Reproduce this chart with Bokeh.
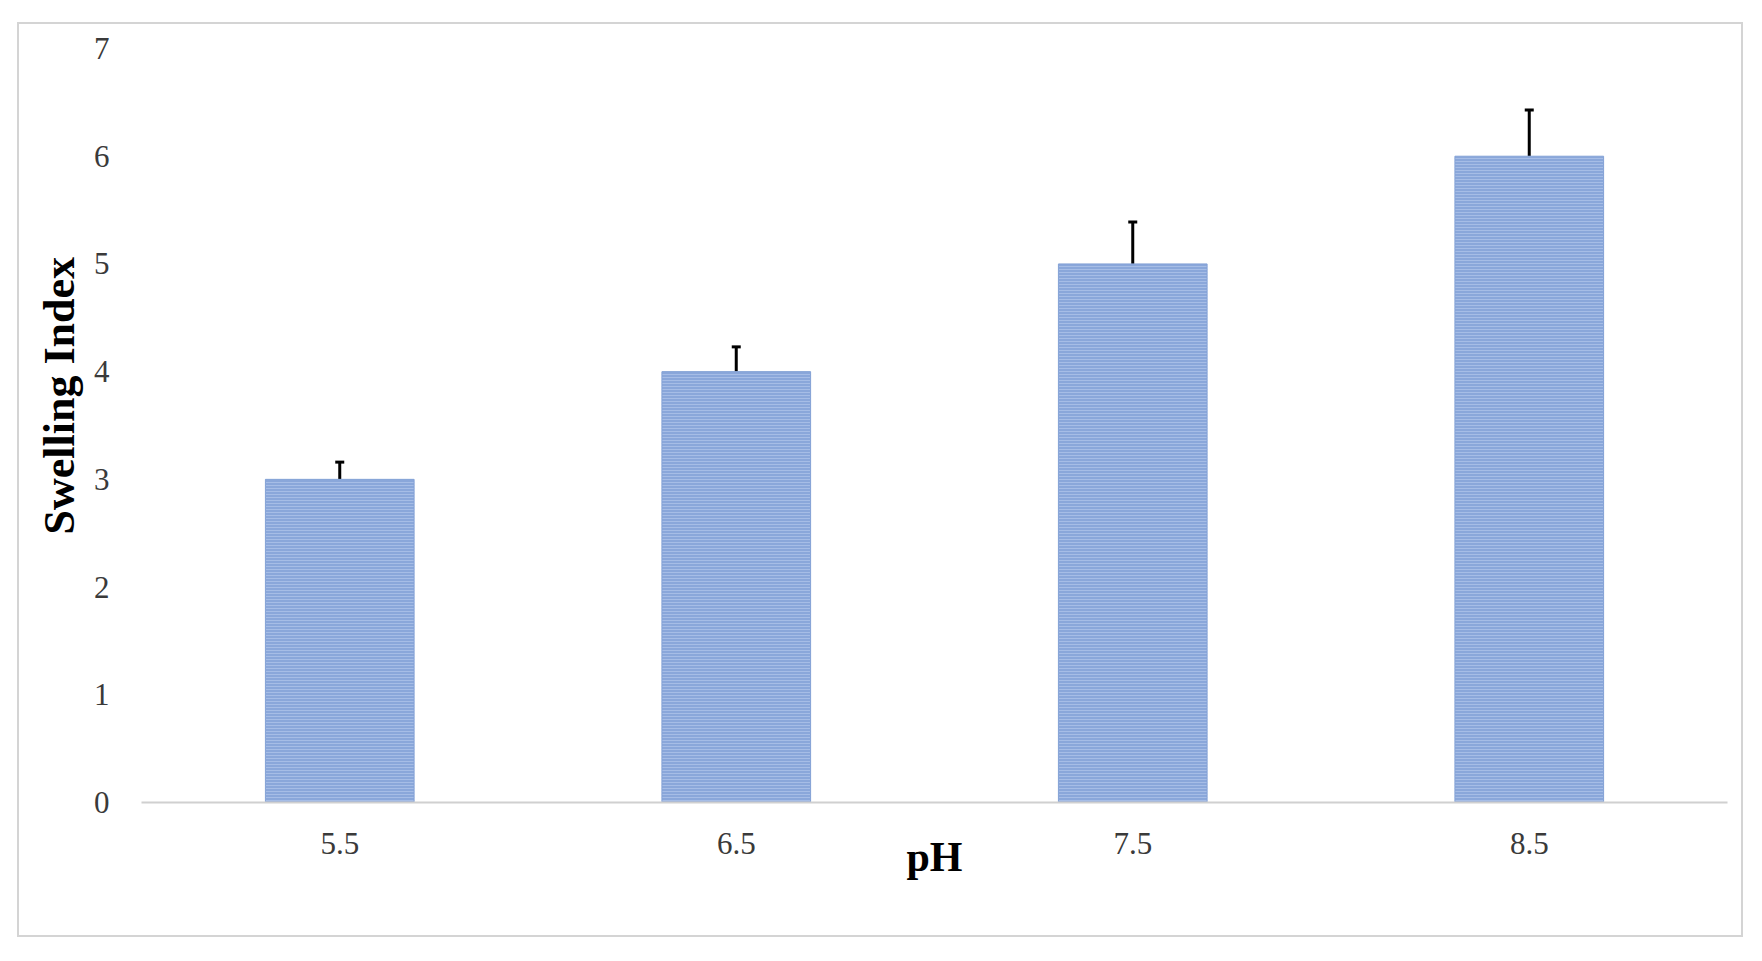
from bokeh.plotting import figure
from bokeh.layouts import column, row
from bokeh.models import (ColumnDataSource, FixedTicker, Whisker, TeeHead, FactorRange,
                          Spacer, Title)
from bokeh.embed import file_html
from bokeh.resources import INLINE

# ---- data ----
ph_levels = ["5.5", "6.5", "7.5", "8.5"]
swelling_index = [3.0, 4.0, 5.0, 6.0]
swelling_err = [0.16, 0.23, 0.39, 0.43]
y_ticks = [0, 1, 2, 3, 4, 5, 6, 7]

upper = [v + e for v, e in zip(swelling_index, swelling_err)]
src = ColumnDataSource(data=dict(ph=ph_levels, val=swelling_index, upper=upper))

SERIF = "Liberation Serif"

p = figure(
    x_range=FactorRange(*ph_levels, range_padding=0),
    y_range=(0, 7),
    width=1726, height=915,
    output_backend="svg", toolbar_location=None,
    min_border_left=122, min_border_right=18,
    min_border_top=24, min_border_bottom=137,
)
p.styles = {"border": "2px solid #d4d4d4"}
p.outline_line_color = None
p.background_fill_color = "white"
p.border_fill_color = "white"
p.xgrid.visible = False
p.ygrid.visible = False

p.vbar(x="ph", top="val", source=src, width=0.375,
       fill_color="#8AA7DA", line_color="#84A2D6", line_width=1,
       hatch_pattern="horizontal_line", hatch_color="#A6BDE6",
       hatch_scale=3, hatch_weight=1)

w = Whisker(source=src, base="ph", lower="val", upper="upper",
            line_color="black", line_width=3,
            upper_head=TeeHead(size=9, line_color="black", line_width=3),
            lower_head=None)
p.add_layout(w)

# axes
p.yaxis.ticker = FixedTicker(ticks=y_ticks)
p.yaxis.axis_line_color = None
p.yaxis.major_tick_line_color = None
p.yaxis.minor_tick_line_color = None
p.yaxis.major_label_standoff = 26
p.yaxis.major_label_text_font = SERIF
p.yaxis.major_label_text_font_size = "31px"
p.yaxis.major_label_text_color = "#3a3a3a"

p.xaxis.axis_line_color = "#d0d0d0"
p.xaxis.axis_line_width = 2
p.xaxis.major_tick_line_color = None
p.xaxis.minor_tick_line_color = None
p.xaxis.major_label_standoff = 24
p.xaxis.major_label_text_font = SERIF
p.xaxis.major_label_text_font_size = "31px"
p.xaxis.major_label_text_color = "#3a3a3a"

p.xaxis.axis_label = "pH"
p.xaxis.axis_label_text_font = SERIF
p.xaxis.axis_label_text_font_size = "42px"
p.xaxis.axis_label_text_font_style = "bold"
p.xaxis.axis_label_text_color = "black"
p.xaxis.axis_label_standoff = -23

ytitle = Title(text="Swelling Index", align="left", offset=268, standoff=14,
               text_font=SERIF, text_font_size="44px", text_font_style="bold",
               text_color="black")
p.add_layout(ytitle, "left")

layout = column(Spacer(height=22), row(Spacer(width=17), p))

open("out.html", "w").write(file_html(layout, INLINE))
